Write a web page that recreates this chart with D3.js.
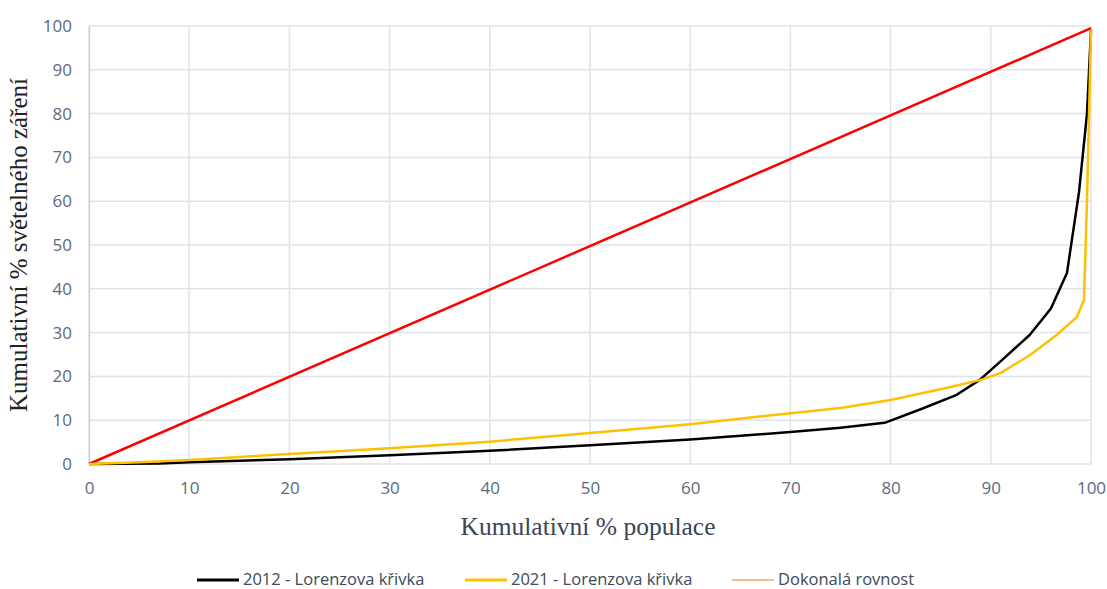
<!DOCTYPE html>
<html>
<head>
<meta charset="utf-8">
<script src="https://cdn.jsdelivr.net/npm/d3@7"></script>
<style>
  body { margin: 0; background: #fff; }
  .tick text { font-family: "Open Sans", "Liberation Sans", sans-serif; font-size: 17px; fill: #5b6a80; }
</style>
</head>
<body>
<div id="chart"></div>
<script>
// data
const ticks = [0, 10, 20, 30, 40, 50, 60, 70, 80, 90, 100];

const pop2012 = [0, 7, 10, 20, 30, 40, 50, 60, 70, 75, 79.4, 83, 86.6, 88.9, 91, 93.9, 96, 97.6, 98.8, 99.6, 100];
const val2012 = [0, 0.1, 0.4, 1.1, 2, 3, 4.3, 5.6, 7.3, 8.3, 9.4, 12.5, 15.8, 19.2, 23.5, 29.5, 35.5, 43.6, 62, 80, 99];

const pop2021 = [0, 5, 10, 20, 30, 40, 50, 60, 70, 75, 80, 86, 89, 91, 94, 96.6, 98.6, 99.3, 99.6, 100];
const val2021 = [0, 0.4, 0.9, 2.3, 3.6, 5.1, 7.1, 9.1, 11.6, 12.8, 14.6, 17.6, 19.2, 20.8, 25, 29.5, 33.6, 37.5, 60, 99];

const popEq = [0, 100];
const valEq = [0, 99.5];

const seriesNames = ["2012 - Lorenzova křivka", "2021 - Lorenzova křivka", "Dokonalá rovnost"];

// set the dimensions and margins of the graph
const W = 1107, H = 589;
const margin = { top: 26, right: 16, bottom: 125, left: 89 },
  width = W - margin.left - margin.right,
  height = H - margin.top - margin.bottom;

const svg = d3.select("#chart")
  .append("svg")
  .attr("width", W)
  .attr("height", H);

const g = svg.append("g")
  .attr("transform", `translate(${margin.left},${margin.top})`);

const x = d3.scaleLinear().domain([0, 100]).range([0, 1002]);
const y = d3.scaleLinear().domain([0, 100]).range([height, height - 438]);

// grid
g.append("g")
  .selectAll("line.v")
  .data(ticks)
  .join("line")
  .attr("x1", d => x(d)).attr("x2", d => x(d))
  .attr("y1", y(0)).attr("y2", y(100))
  .attr("stroke", "#dfe4eb").attr("stroke-width", 1.5);

g.append("g")
  .selectAll("line.h")
  .data(ticks)
  .join("line")
  .attr("x1", x(0)).attr("x2", x(100))
  .attr("y1", d => y(d)).attr("y2", d => y(d))
  .attr("stroke", "#dfe4eb").attr("stroke-width", 1.5);

// axes
const xAxis = g.append("g")
  .attr("transform", `translate(0,${y(0)})`)
  .call(d3.axisBottom(x).tickValues(ticks).tickSize(0).tickPadding(18));
xAxis.select(".domain").remove();

const yAxis = g.append("g")
  .call(d3.axisLeft(y).tickValues(ticks).tickSize(0).tickPadding(17));
yAxis.select(".domain").attr("stroke", "#c9d1dc").attr("stroke-width", 1.5);

// lines
const line = d3.line().x(d => x(d[0])).y(d => y(d[1]));

g.append("path")
  .datum(d3.zip(popEq, valEq))
  .attr("d", line)
  .attr("fill", "none").attr("stroke", "#ff0000").attr("stroke-width", 2.5);

g.append("path")
  .datum(d3.zip(pop2012, val2012))
  .attr("d", line)
  .attr("fill", "none").attr("stroke", "#000").attr("stroke-width", 2.5)
  .attr("stroke-linejoin", "round");

g.append("path")
  .datum(d3.zip(pop2021, val2021))
  .attr("d", line)
  .attr("fill", "none").attr("stroke", "#ffc000").attr("stroke-width", 2.5)
  .attr("stroke-linejoin", "round");

// axis titles
svg.append("text")
  .attr("x", 588).attr("y", 535)
  .attr("text-anchor", "middle")
  .attr("font-family", "Liberation Serif, serif")
  .attr("font-size", 25.5)
  .attr("fill", "#3a4556")
  .text("Kumulativní % populace");

svg.append("text")
  .attr("transform", "translate(27,245) rotate(-90)")
  .attr("text-anchor", "middle")
  .attr("font-family", "Liberation Serif, serif")
  .attr("font-size", 25)
  .attr("fill", "#222")
  .text("Kumulativní % světelného záření");

// legend
const legend = [
  { name: seriesNames[0], color: "#000", w: 3, x: 197 },
  { name: seriesNames[1], color: "#ffc000", w: 3, x: 465 },
  { name: seriesNames[2], color: "#f4a470", w: 1.5, x: 732 }
];
const lg = svg.append("g").attr("transform", "translate(0,580)");
legend.forEach(d => {
  lg.append("line")
    .attr("x1", d.x).attr("x2", d.x + 42)
    .attr("stroke", d.color).attr("stroke-width", d.w);
  lg.append("text")
    .attr("x", d.x + 46).attr("y", 5)
    .attr("font-family", "Open Sans, sans-serif")
    .attr("font-size", 16.5)
    .attr("fill", "#404a58")
    .text(d.name);
});
</script>
</body>
</html>
